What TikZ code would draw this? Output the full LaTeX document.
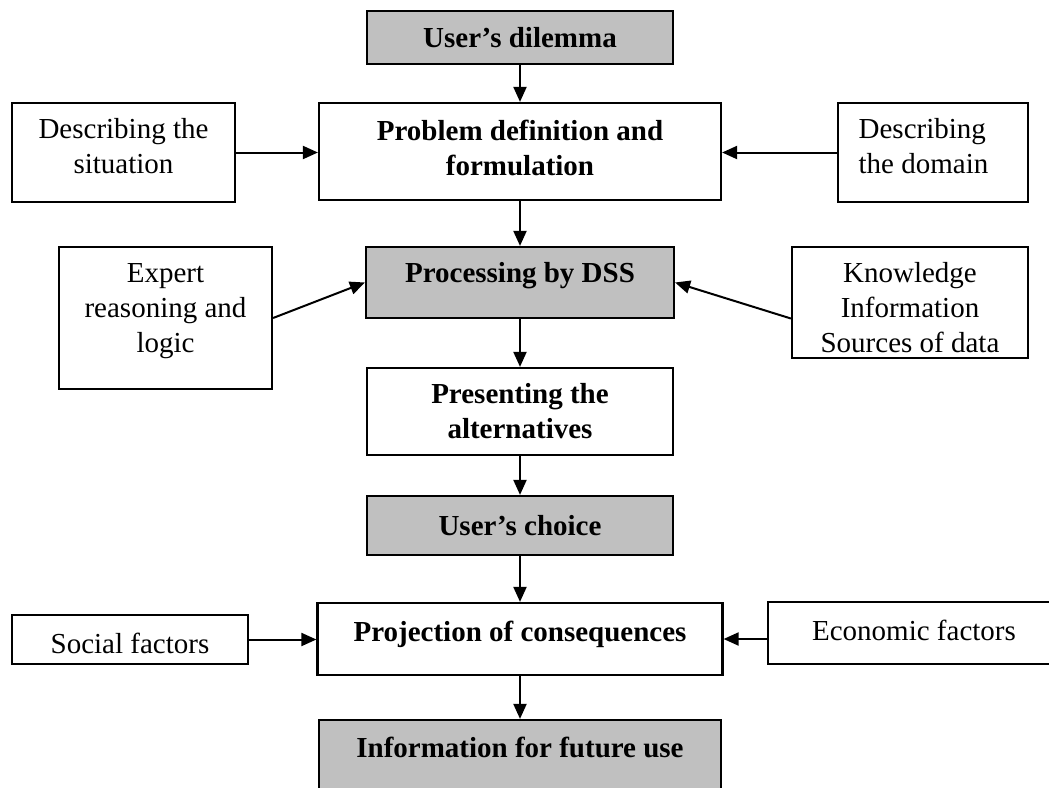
\documentclass[tikz,border=0pt]{standalone}
\usepackage{fontspec}
\setmainfont{Liberation Serif}
\usetikzlibrary{arrows.meta}
\definecolor{boxgray}{HTML}{C0C0C0}
\begin{document}
\begin{tikzpicture}[x=1pt,y=-1pt,
  box/.style={draw=black, line width=2.2pt, fill=white, inner sep=0pt},
  shaded/.style={box, fill=boxgray},
  txt/.style={font=\fontsize{29}{35}\selectfont, align=center, inner sep=0pt},
  btxt/.style={txt, font=\fontsize{29}{35}\selectfont\bfseries},
  arr/.style={line width=2pt, -{Triangle[length=15pt,width=13pt]}}]
\useasboundingbox (0,0) rectangle (1049,787);
\clip (0,0) rectangle (1049,787);

% boxes of the main chain
\node[shaded, minimum width=306, minimum height=53] (dil) at (520,37.5) {};
\node[box, minimum width=402, minimum height=97] (prob) at (520,151.5) {};
\node[shaded, minimum width=308, minimum height=71] (proc) at (520,282.5) {};
\node[box, minimum width=306, minimum height=87] (pres) at (520,411.5) {};
\node[shaded, minimum width=306, minimum height=59] (choice) at (520,525.5) {};
\node[box, minimum width=405, minimum height=72] (proj) at (520,639) {};
\node[shaded, minimum width=402, minimum height=80] (info) at (520,760) {};

% side boxes
\node[box, minimum width=223, minimum height=99] (sit) at (123.5,152.5) {};
\node[box, minimum width=190, minimum height=99] (dom) at (933,152.5) {};
\node[box, minimum width=213, minimum height=142] (exp) at (165.5,318) {};
\node[box, minimum width=236, minimum height=111] (know) at (910,302.5) {};
\node[box, minimum width=236, minimum height=49] (soc) at (130,639.5) {};
\node[box, minimum width=292, minimum height=62] (eco) at (914,633) {};

% texts
\node[btxt] (dil-t) at (dil.center) {User’s dilemma};
\node[btxt] (prob-t) at ([yshift=4]prob.center) {Problem definition and\\formulation};
\node[btxt] (proc-t) at ([yshift=7]proc.center) {Processing by DSS};
\node[btxt] (pres-t) at (pres.center) {Presenting the\\alternatives};
\node[btxt] (choice-t) at (choice.center) {User’s choice};
\node[btxt] (proj-t) at ([yshift=5]proj.center) {Projection of consequences};
\node[btxt] (info-t) at ([yshift=13]info.center) {Information for future use};
\node[txt] (sit-t) at ([yshift=6]sit.center) {Describing the\\situation};
\node[txt, align=left] (dom-t) at ([xshift=-9.5,yshift=6]dom.center) {Describing\\the domain};
\node[txt] (exp-t) at ([yshift=7]exp.center) {Expert\\reasoning and\\logic};
\node[txt] (know-t) at ([yshift=-5]know.center) {Knowledge\\Information\\Sources of data};
\node[txt] (soc-t) at ([yshift=-4]soc.center) {Social factors};
\node[txt] (eco-t) at ([yshift=3]eco.center) {Economic factors};

% connectors
\draw[arr] (dil.south) -- (prob.north);
\draw[arr] (sit.east) -- (sit.east -| prob.west);
\draw[arr] (dom.west) -- (dom.west -| prob.east);
\draw[arr] (prob.south) -- (proc.north);
\draw[arr] (exp.east) -- (proc.west);
\draw[arr] ([yshift=-16]know.west) -- (proc.east);
\draw[arr] (proc.south) -- (pres.north);
\draw[arr] (pres.south) -- (choice.north);
\draw[arr] (choice.south) -- (proj.north);
\draw[arr] (soc.east) -- (soc.east -| proj.west);
\draw[arr] (eco.west |- proj.east) -- (proj.east);
\draw[arr] (proj.south) -- (info.north);
\end{tikzpicture}
\end{document}
